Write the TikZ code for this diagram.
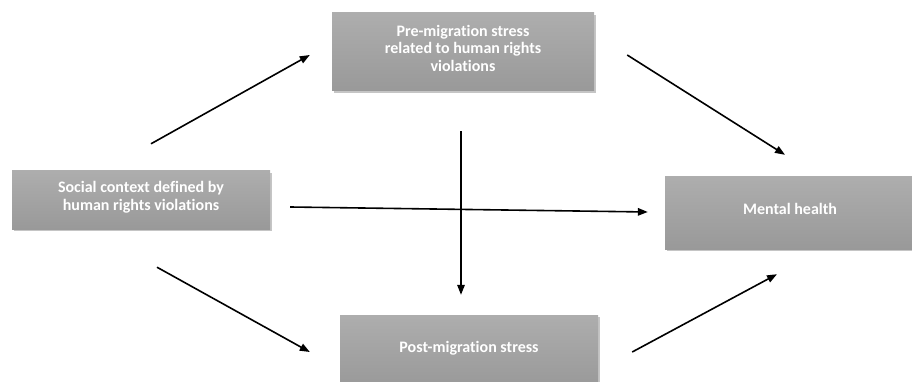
\documentclass[tikz,border=0pt]{standalone}
\usepackage{fontspec}
\setmainfont{Carlito}[Ligatures=NoCommon]
\usetikzlibrary{arrows.meta,shadows}
\begin{document}
\begin{tikzpicture}[x=1pt,y=-1pt,
  factor/.style={rectangle, top color=gray!64, bottom color=gray!80, draw=none,
    text=white, font=\fontsize{16}{17.5}\selectfont\bfseries, align=center, text depth=8pt,
    drop shadow={shadow xshift=1.5pt, shadow yshift=-2pt, fill=black!45, opacity=0.5}},
  path/.style={-{Triangle[length=10pt,width=7.5pt]}, line width=1.6pt}]
\useasboundingbox (0,0) rectangle (912,382);
\node[factor, minimum width=258pt, minimum height=58pt] (social) at (141,200)
{Social context defined by\\human rights violations};
\node[factor, minimum width=262pt, minimum height=78pt] (pre) at (463,52)
{Pre-migration stress\\related to human rights\\violations};
\node[factor, minimum width=250pt, minimum height=72pt] (mental) at (790,213) {Mental health};
\node[factor, minimum width=258pt, minimum height=72pt] (post) at (469,351) {Post-migration stress};
\draw[path] ([xshift=10pt,yshift=27pt]social.north) -- ([xshift=-22pt,yshift=-3pt]pre.west);
\draw[path] ([xshift=20pt,yshift=-7pt]social.east) -- ([xshift=-17pt,yshift=1pt]mental.west);
\draw[path] ([xshift=16pt,yshift=-38pt]social.south) -- ([xshift=-30pt,yshift=-1pt]post.west);
\draw[path] ([xshift=33pt,yshift=-3pt]pre.east) -- ([xshift=-5pt,yshift=22pt]mental.north);
\draw[path] ([xshift=-2pt,yshift=-40pt]pre.south) -- ([xshift=-8pt,yshift=20pt]post.north);
\draw[path] ([xshift=34pt,yshift=-1pt]post.east) -- ([xshift=-13pt,yshift=-25pt]mental.south);
\end{tikzpicture}
\end{document}
